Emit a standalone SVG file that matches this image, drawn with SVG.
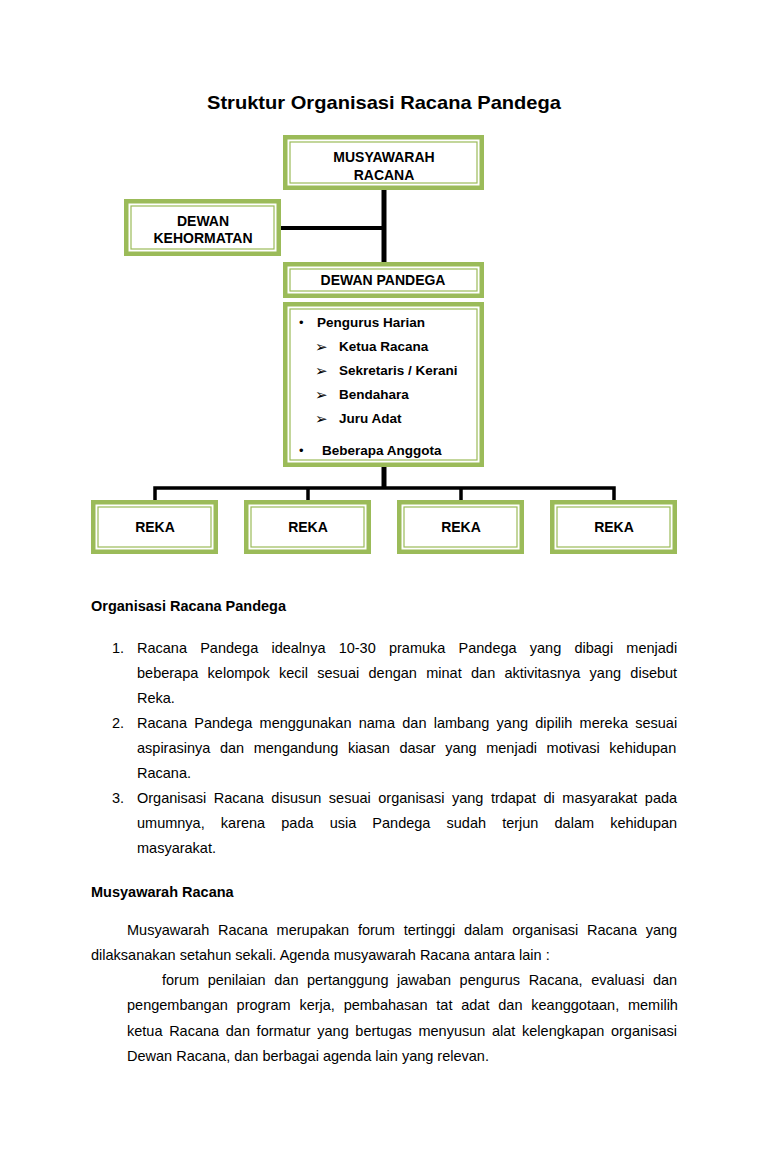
<svg xmlns="http://www.w3.org/2000/svg" width="768" height="1175" viewBox="0 0 768 1175">
<defs>
<style>
.outer{fill:#ffffff;stroke:#9bbb59;stroke-width:4.5}
.inner{fill:none;stroke:#9bbb59;stroke-width:1.2}
.lbl{font-family:"Liberation Sans",Arial,sans-serif;font-weight:bold;font-size:14px;fill:#000;text-anchor:middle}
.li{font-family:"Liberation Sans",Arial,sans-serif;font-weight:bold;font-size:13.5px;fill:#000}
.sym{font-family:"DejaVu Sans",sans-serif;font-weight:bold;font-size:15px;fill:#000}
.bul{font-family:"Liberation Sans",Arial,sans-serif;font-size:13px;fill:#000}
.h{font-family:"Liberation Sans",Arial,sans-serif;font-weight:bold;font-size:14.5px;fill:#000}
.b{font-family:"Liberation Sans",Arial,sans-serif;font-size:14.5px;fill:#000}
.conn{stroke:#000;fill:none}
</style>
</defs>
<rect width="768" height="1175" fill="#ffffff"/>
<text x="384" y="109" font-family="Liberation Sans, Arial, sans-serif" font-weight="bold" font-size="19" text-anchor="middle" textLength="354" lengthAdjust="spacingAndGlyphs">Struktur Organisasi Racana Pandega</text>

<g id="connectors">
<line class="conn" x1="384" y1="189" x2="384" y2="263" stroke-width="5"/>
<line class="conn" x1="280" y1="228" x2="384" y2="228" stroke-width="4"/>
<line class="conn" x1="384" y1="465" x2="384" y2="489" stroke-width="5"/>
<polyline class="conn" points="155,501 155,488 614,488 614,501" stroke-width="3.5"/>
<line class="conn" x1="308" y1="488" x2="308" y2="501" stroke-width="3.5"/>
<line class="conn" x1="461" y1="488" x2="461" y2="501" stroke-width="3.5"/>
</g>

<g id="musyawarah">
<rect class="outer" x="285.25" y="137.25" width="196.5" height="50.5"/>
<rect class="inner" x="290" y="142" width="187" height="41"/>
<text class="lbl" x="384" y="162">MUSYAWARAH</text>
<text class="lbl" x="384" y="180">RACANA</text>
</g>

<g id="dewan-kehormatan">
<rect class="outer" x="126.25" y="201.25" width="152.5" height="52.5"/>
<rect class="inner" x="131" y="206" width="143" height="43"/>
<text class="lbl" x="203" y="226">DEWAN</text>
<text class="lbl" x="203" y="243">KEHORMATAN</text>
</g>

<g id="dewan-pandega">
<rect class="outer" x="285.25" y="264.25" width="196.5" height="31.5"/>
<rect class="inner" x="290" y="269" width="187" height="22"/>
<text class="lbl" x="383" y="285">DEWAN PANDEGA</text>
</g>

<g id="pengurus">
<rect class="outer" x="285.25" y="304.25" width="196.5" height="160.5"/>
<rect class="inner" x="290" y="309" width="187" height="151"/>
<text class="bul" x="299" y="327">•</text>
<text class="li" x="317" y="327">Pengurus Harian</text>
<text class="sym" x="315" y="352">➢</text>
<text class="li" x="339" y="351">Ketua Racana</text>
<text class="sym" x="315" y="376">➢</text>
<text class="li" x="339" y="375">Sekretaris / Kerani</text>
<text class="sym" x="315" y="400">➢</text>
<text class="li" x="339" y="399">Bendahara</text>
<text class="sym" x="315" y="424">➢</text>
<text class="li" x="339" y="423">Juru Adat</text>
<text class="bul" x="299" y="455">•</text>
<text class="li" x="322" y="455">Beberapa Anggota</text>
</g>

<g id="reka-1">
<rect class="outer" x="93.25" y="502.25" width="122.5" height="49.5"/>
<rect class="inner" x="98" y="507" width="113" height="40"/>
<text class="lbl" x="155" y="532">REKA</text>
</g>
<g id="reka-2">
<rect class="outer" x="246.25" y="502.25" width="122.5" height="49.5"/>
<rect class="inner" x="251" y="507" width="113" height="40"/>
<text class="lbl" x="308" y="532">REKA</text>
</g>
<g id="reka-3">
<rect class="outer" x="399.25" y="502.25" width="122.5" height="49.5"/>
<rect class="inner" x="404" y="507" width="113" height="40"/>
<text class="lbl" x="461" y="532">REKA</text>
</g>
<g id="reka-4">
<rect class="outer" x="552.25" y="502.25" width="122.5" height="49.5"/>
<rect class="inner" x="557" y="507" width="113" height="40"/>
<text class="lbl" x="614" y="532">REKA</text>
</g>

<g id="body">
<text class="h" x="91" y="611">Organisasi Racana Pandega</text>
<text class="b" x="112" y="653">1.</text>
<text class="b" x="137" y="653" word-spacing="9.17">Racana Pandega idealnya 10-30 pramuka Pandega yang dibagi menjadi</text>
<text class="b" x="137" y="678" word-spacing="5.29">beberapa kelompok kecil sesuai dengan minat dan aktivitasnya yang disebut</text>
<text class="b" x="137" y="703">Reka.</text>
<text class="b" x="112" y="728">2.</text>
<text class="b" x="137" y="728" word-spacing="3.23">Racana Pandega menggunakan nama dan lambang yang dipilih mereka sesuai</text>
<text class="b" x="137" y="753" word-spacing="5.54">aspirasinya dan mengandung kiasan dasar yang menjadi motivasi kehidupan</text>
<text class="b" x="137" y="778">Racana.</text>
<text class="b" x="112" y="803">3.</text>
<text class="b" x="137" y="803" word-spacing="3.5">Organisasi Racana disusun sesuai organisasi yang trdapat di masyarakat pada</text>
<text class="b" x="137" y="828" word-spacing="12.09">umumnya, karena pada usia Pandega sudah terjun dalam kehidupan</text>
<text class="b" x="137" y="853">masyarakat.</text>

<text class="h" x="91" y="897">Musyawarah Racana</text>
<text class="b" x="127" y="935" word-spacing="4.69">Musyawarah Racana merupakan forum tertinggi dalam organisasi Racana yang</text>
<text class="b" x="91" y="960">dilaksanakan setahun sekali. Agenda musyawarah Racana antara lain :</text>
<text class="b" x="162" y="985" word-spacing="4.54">forum penilaian dan pertanggung jawaban pengurus Racana, evaluasi dan</text>
<text class="b" x="127" y="1010" word-spacing="4.78">pengembangan program kerja, pembahasan tat adat dan keanggotaan, memilih</text>
<text class="b" x="127" y="1036" word-spacing="2.63">ketua Racana dan formatur yang bertugas menyusun alat kelengkapan organisasi</text>
<text class="b" x="127" y="1061">Dewan Racana, dan berbagai agenda lain yang relevan.</text>
</g>
</svg>
